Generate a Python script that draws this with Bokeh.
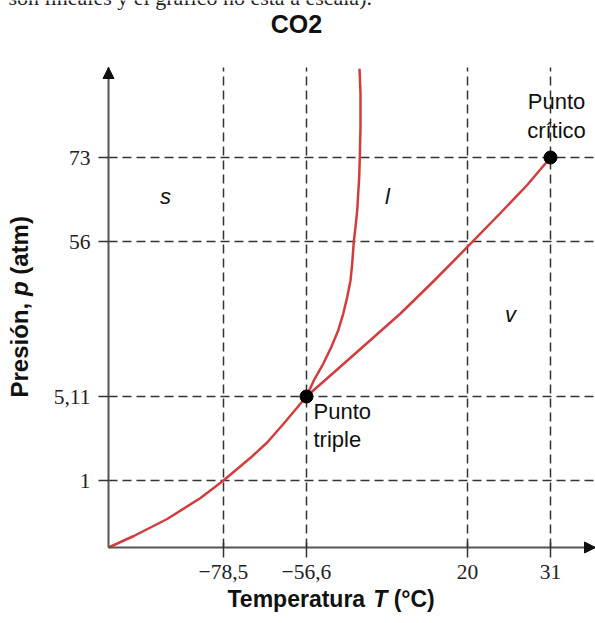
import math
from bokeh.plotting import figure
from bokeh.models import Range1d, FixedTicker, Label, Arrow, NormalHead
from bokeh.embed import file_html
from bokeh.resources import INLINE

# ---------------- data ----------------
title_text = "CO2"
header_text = "son lineales y el gráfico no está a escala)."

# temperature ticks (°C) and their places on the (non-linear) axis
T_ticks = [-78.5, -56.6, 20, 31]
T_labels = ["\u221278,5", "\u221256,6", "20", "31"]
T_axis_pos = [115, 198, 359, 442]

# pressure ticks (atm) and their places on the (non-linear) axis
p_ticks = [1, 5.11, 56, 73]
p_labels = ["1", "5,11", "56", "73"]
p_axis_pos = [67, 151, 306, 390]

# phase boundaries, read in axis units (schematic, not to scale)
sub_x = [0, 25.3, 58.7, 92, 115, 142, 158.7, 175.3, 198]
sub_y = [0, 11.5, 28.5, 49.5, 67, 89.7, 105, 124, 151]

melt_x = [198, 205.3, 214.7, 222.7, 229.7, 234.7, 238.7, 242, 243.7, 245.3,
          247, 248.7, 249.7, 250.7, 251.3, 252, 252, 251]
melt_y = [151, 167, 183.7, 200.3, 217, 233.7, 250.3, 267, 283.7, 305.8,
          320.3, 337, 353.7, 370.3, 389.7, 420.3, 453.7, 478.7]

vap_x = [198, 225.3, 258.7, 292, 325.3, 358.7, 392, 418.7, 442]
vap_y = [151, 175, 204.5, 234, 266.5, 300.3, 334.5, 362.5, 390]

phase_labels = ["s", "l", "v"]
triple_label = ["Punto", "triple"]
critical_label = ["Punto", "crítico"]
x_title = ["Temperatura", "T", "(°C)"]
y_title = ["Presión,", "p", "(atm)"]

RED = "#d23c3c"
DARK = "#333333"

X_END = 487
Y_END = 480

# ---------------- figure ----------------
p = figure(width=595, height=623, output_backend="svg", toolbar_location=None,
           x_range=Range1d(-108, X_END), y_range=Range1d(-76, 547),
           min_border_left=0, min_border_right=0, min_border_top=0,
           min_border_bottom=0)
p.title.visible = False
p.outline_line_color = None
p.background_fill_color = "white"
p.border_fill_color = "white"
p.xgrid.visible = False
p.ygrid.visible = False

# axes pinned at the origin
p.xaxis.fixed_location = 0
p.yaxis.fixed_location = 0
p.xaxis.bounds = (0, X_END)
p.yaxis.bounds = (0, Y_END)
for ax, ticks, labels in ((p.xaxis, T_axis_pos, T_labels), (p.yaxis, p_axis_pos, p_labels)):
    ax.ticker = FixedTicker(ticks=ticks)
    ax.major_label_overrides = {t: l for t, l in zip(ticks, labels)}
    ax.axis_line_width = 2
    ax.axis_line_color = "#555555"
    ax.major_tick_line_color = DARK
    ax.major_tick_line_width = 1.5
    ax.minor_tick_line_color = None
    ax.major_label_text_font = "Liberation Serif"
    ax.major_label_text_font_size = "21.5px"
    ax.major_label_text_color = "#222222"
p.xaxis.major_tick_in = 5
p.xaxis.major_tick_out = 10
p.xaxis.major_label_standoff = 7
p.yaxis.major_tick_in = 0
p.yaxis.major_tick_out = 10
p.yaxis.major_label_standoff = 8

# dashed guide lines at the tick positions
n_x = len(T_axis_pos)
n_y = len(p_axis_pos)
p.segment(x0=T_axis_pos, y0=[0] * n_x, x1=T_axis_pos, y1=[Y_END] * n_x,
          line_color=DARK, line_dash="9 5", line_width=1.5)
p.segment(x0=[0] * n_y, y0=p_axis_pos, x1=[X_END] * n_y, y1=p_axis_pos,
          line_color=DARK, line_dash="9 5", line_width=1.5)

# arrow heads at the ends of the axes
p.add_layout(Arrow(end=NormalHead(size=11, fill_color="#111111", line_color="#111111"),
                   x_start=0, y_start=0, x_end=0, y_end=Y_END, line_alpha=0))
p.add_layout(Arrow(end=NormalHead(size=11, fill_color="#111111", line_color="#111111"),
                   x_start=0, y_start=0, x_end=X_END, y_end=0, line_alpha=0))

# curves
for xs, ys in ((sub_x, sub_y), (melt_x, melt_y), (vap_x, vap_y)):
    p.line(xs, ys, line_color=RED, line_width=2.5, line_join="round")

# triple and critical points
p.scatter([T_axis_pos[1], T_axis_pos[3]], [p_axis_pos[1], p_axis_pos[3]],
          size=13, fill_color="black", line_color="black")

# texts (baseline given in axis units; a small lift compensates the renderer)
def lab(x, y, text, size=22, style="normal", align="left", font="Liberation Sans",
        angle=0.0, color="#111111"):
    lift = 0.4 * size
    if angle:
        x = x - lift
    else:
        y = y + lift
    p.add_layout(Label(x=x, y=y, text=text, text_font=font, text_font_size=f"{size}px",
                       text_font_style=style, text_align=align,
                       text_baseline="alphabetic", angle=angle, text_color=color))

lab(-100, 541, header_text, size=22, font="Liberation Serif", color="#222222")
lab(188, 514, title_text, size=25, style="bold", align="center")

lab(57, 342.7, phase_labels[0], style="italic", align="center")
lab(279, 342.7, phase_labels[1], style="italic", align="center")
lab(402, 224, phase_labels[2], style="italic", align="center")

lab(205, 127, triple_label[0])
lab(205, 99, triple_label[1])
lab(448, 437, critical_label[0], align="center")
lab(448, 408.7, critical_label[1], align="center")

# x title, made of pieces (italic T); widths from Liberation Sans Bold metrics
fs = 23
w = lambda units, s: units * s / 1000.0
x0 = 119
lab(x0, -61, x_title[0], size=fs, style="bold")
x1 = x0 + w(6057 + 278, fs)
lab(x1, -61, x_title[1], size=fs, style="bold italic")
x2 = x1 + w(611 + 278, fs)
lab(x2, -61, x_title[2], size=fs, style="bold")

# y title, rotated, made of pieces (italic p)
fy = 24
y0 = 150
lab(-79, y0, y_title[0], size=fy, style="bold", angle=math.pi / 2)
y1 = y0 + w(4224, fy)
lab(-79, y1, y_title[1], size=fy, style="bold italic", angle=math.pi / 2)
y2 = y1 + w(611 + 278, fy)
lab(-79, y2, y_title[2], size=fy, style="bold", angle=math.pi / 2)

open("out.html", "w").write(file_html(p, INLINE))
